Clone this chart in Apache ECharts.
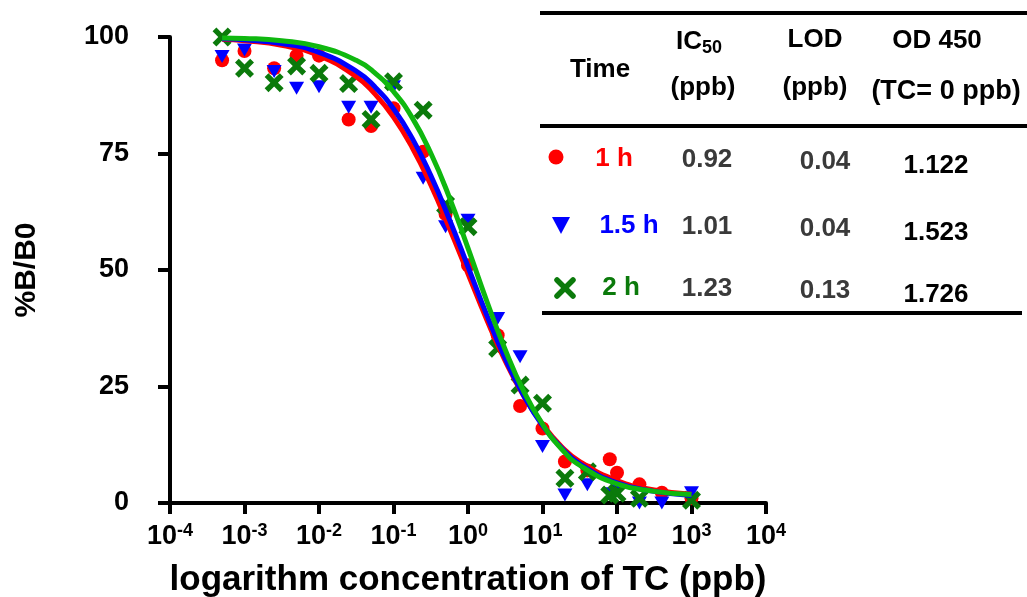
<!DOCTYPE html>
<html>
<head>
<meta charset="utf-8">
<script src="https://cdn.jsdelivr.net/npm/echarts@6/dist/echarts.min.js"></script>
<style>
  html, body { margin: 0; padding: 0; background: #fff; }
  #chart { width: 1027px; height: 597px; }
</style>
</head>
<body>
<div id="chart"></div>
<script>
const chart = echarts.init(document.getElementById('chart'));
const FONT = '"Liberation Sans", Arial, sans-serif';

// concentrations of the measured points (ppb)
const conc = [0.0005, 0.001, 0.0025, 0.005, 0.01, 0.025, 0.05, 0.1, 0.25, 0.5, 1, 2.5, 5, 10, 20, 40, 80, 100, 200, 400, 1000];
const b1h = [95, 97, 93.3, 96, 96, 82.3, 80.9, 84.7, 75.4, 62, 51, 36, 20.8, 16, 8.9, 7, 9.4, 6.5, 4, 2.2, 1];
const b15h = [95.8, 97.2, 92.6, 89, 89.3, 84.9, 84.9, 89.3, 69.7, 59.3, 60.7, 39.6, 31.4, 12.1, 1.7, 3.9, 2, 3, 0, 0, 2.2];
const b2h = [100, 93.3, 90.2, 93.8, 92.2, 90, 82.3, 90.4, 84.3, 64, 59.3, 33.2, 25.3, 21.4, 5.3, 6.7, 1.7, 2.1, 1.0, null, 0.6];

// fitted curves
const curveConc = [0.0005, 0.001, 0.00316, 0.01, 0.0316, 0.0562, 0.1, 0.178, 0.316, 0.562, 1, 1.78, 3.16, 5.62, 10, 17.8, 31.6, 100, 316, 1000];
const fit1h = [99.5, 99.2, 98.2, 96.0, 91.5, 87.8, 82.8, 76.3, 68.3, 59.0, 49.2, 39.4, 30.5, 22.9, 16.9, 12.2, 8.9, 4.8, 2.8, 1.9];
const fit15h = [99.6, 99.4, 98.6, 96.7, 92.7, 89.3, 84.6, 78.3, 70.3, 60.9, 50.7, 40.4, 31.0, 23.0, 16.6, 11.9, 8.4, 4.3, 2.5, 1.6];
const fit2h = [99.8, 99.7, 99.2, 97.9, 95.0, 92.3, 88.3, 82.7, 75.1, 65.6, 54.7, 43.4, 32.9, 23.9, 16.9, 11.7, 8.1, 4.1, 2.5, 1.8];

// table next to the plot
const rowNames = ['1 h', '1.5 h', '2 h'];
const ic50 = ['0.92', '1.01', '1.23'];
const lod = ['0.04', '0.04', '0.13'];
const od450 = ['1.122', '1.523', '1.726'];

const RED = '#ff0000', BLUE = '#0000ff', GREEN_LINE = '#0fb80f', GREEN_X = '#0b7a0b';
const X_PATH = 'path://M2,0 L5,3 L8,0 L10,2 L7,5 L10,8 L8,10 L5,7 L2,10 L0,8 L3,5 L0,2 Z';

const pts = vals => conc.map((c, i) => [c, vals[i]]).filter(p => p[1] != null);
const curve = vals => curveConc.map((c, i) => [c, vals[i]]);

const txt = (x, y, text, color, size) => ({
  type: 'text', x: x, y: y,
  style: { text: text, fill: color || '#000', font: 'bold ' + (size || 26) + 'px ' + FONT, align: 'center', verticalAlign: 'middle' }
});
const hline = (x1, x2, y) => ({
  type: 'line', shape: { x1: x1, y1: y, x2: x2, y2: y }, style: { stroke: '#000', lineWidth: 4 }
});

const rowY = [159, 226, 288];
const rowColors = [RED, BLUE, GREEN_X];
const graphics = [
  hline(540, 1027, 13), hline(540, 1027, 126), hline(542, 1022, 313),
  txt(600, 70, 'Time'),
  {
    type: 'text', x: 699, y: 42,
    style: {
      text: '{a|IC}{s|50}', align: 'center', verticalAlign: 'middle',
      rich: {
        a: { font: 'bold 26px ' + FONT, fill: '#000', lineHeight: 30 },
        s: { font: 'bold 18px ' + FONT, fill: '#000', verticalAlign: 'bottom', lineHeight: 20 }
      }
    }
  },
  txt(703, 88, '(ppb)'), txt(815, 40, 'LOD'), txt(815, 88, '(ppb)'),
  txt(937, 41, 'OD 450'), txt(946, 92, '(TC= 0 ppb)', '#000', 27),
  { type: 'circle', shape: { cx: 556, cy: 157, r: 7.5 }, style: { fill: RED } },
  { type: 'polygon', shape: { points: [[552, 217], [570, 217], [561, 234]] }, style: { fill: BLUE } },
  { type: 'line', shape: { x1: 557, y1: 280, x2: 573, y2: 296 }, style: { stroke: GREEN_X, lineWidth: 5.5, lineCap: 'round' } },
  { type: 'line', shape: { x1: 573, y1: 280, x2: 557, y2: 296 }, style: { stroke: GREEN_X, lineWidth: 5.5, lineCap: 'round' } }
];
const nameX = [614, 629, 621];
rowNames.forEach((n, i) => {
  graphics.push(txt(nameX[i], rowY[i], n, rowColors[i]));
  graphics.push(txt(707, rowY[i] + 1, ic50[i], '#3a3a3a'));
  graphics.push(txt(825, rowY[i] + 3, lod[i], '#3a3a3a'));
  graphics.push(txt(936, rowY[i] + 7, od450[i], '#000'));
});

const option = {
  animation: false,
  grid: { left: 170, right: 261, top: 37, bottom: 94, containLabel: false, outerBoundsMode: 'none' },
  xAxis: {
    type: 'log', logBase: 10, min: 0.0001, max: 10000,
    name: 'logarithm concentration of TC (ppb)',
    nameLocation: 'middle', nameGap: 60,
    nameTextStyle: { fontFamily: FONT, fontWeight: 'bold', fontSize: 35, color: '#000' },
    axisLine: { lineStyle: { color: '#000', width: 4 } },
    axisTick: { inside: false, length: 11, lineStyle: { color: '#000', width: 4 } },
    minorTick: { show: false },
    splitLine: { show: false },
    axisLabel: {
      margin: 19,
      formatter: v => '{b|10}{s|' + Math.round(Math.log10(v)) + '}',
      rich: {
        b: { fontFamily: FONT, fontWeight: 'bold', fontSize: 27, color: '#000', lineHeight: 30 },
        s: { fontFamily: FONT, fontWeight: 'bold', fontSize: 18, color: '#000', verticalAlign: 'top', lineHeight: 18 }
      }
    }
  },
  yAxis: {
    type: 'value', min: 0, max: 100, interval: 25,
    name: '%B/B0', nameLocation: 'middle', nameGap: 128, nameRotate: 90,
    nameTextStyle: { fontFamily: FONT, fontWeight: 'bold', fontSize: 30, color: '#000' },
    axisLine: { show: true, lineStyle: { color: '#000', width: 4 } },
    axisTick: { show: true, inside: false, length: 12, lineStyle: { color: '#000', width: 4 } },
    splitLine: { show: false },
    axisLabel: { margin: 41, fontFamily: FONT, fontWeight: 'bold', fontSize: 27, color: '#000' }
  },
  series: [
    { type: 'scatter', data: pts(b1h), symbol: 'circle', symbolSize: 14, itemStyle: { color: RED, opacity: 1 } },
    { type: 'scatter', data: pts(b15h), symbol: 'triangle', symbolRotate: 180, symbolSize: [15, 13], itemStyle: { color: BLUE, opacity: 1 } },
    { type: 'line', data: curve(fit1h), smooth: true, showSymbol: false, lineStyle: { color: RED, width: 5 } },
    { type: 'line', data: curve(fit15h), smooth: true, showSymbol: false, lineStyle: { color: BLUE, width: 5 } },
    { type: 'line', data: curve(fit2h), smooth: true, showSymbol: false, lineStyle: { color: GREEN_LINE, width: 5 } },
    { type: 'scatter', data: pts(b2h), symbol: X_PATH, symbolSize: 19, itemStyle: { color: GREEN_X, opacity: 1 } }
  ],
  graphic: graphics
};

chart.setOption(option);
</script>
</body>
</html>
